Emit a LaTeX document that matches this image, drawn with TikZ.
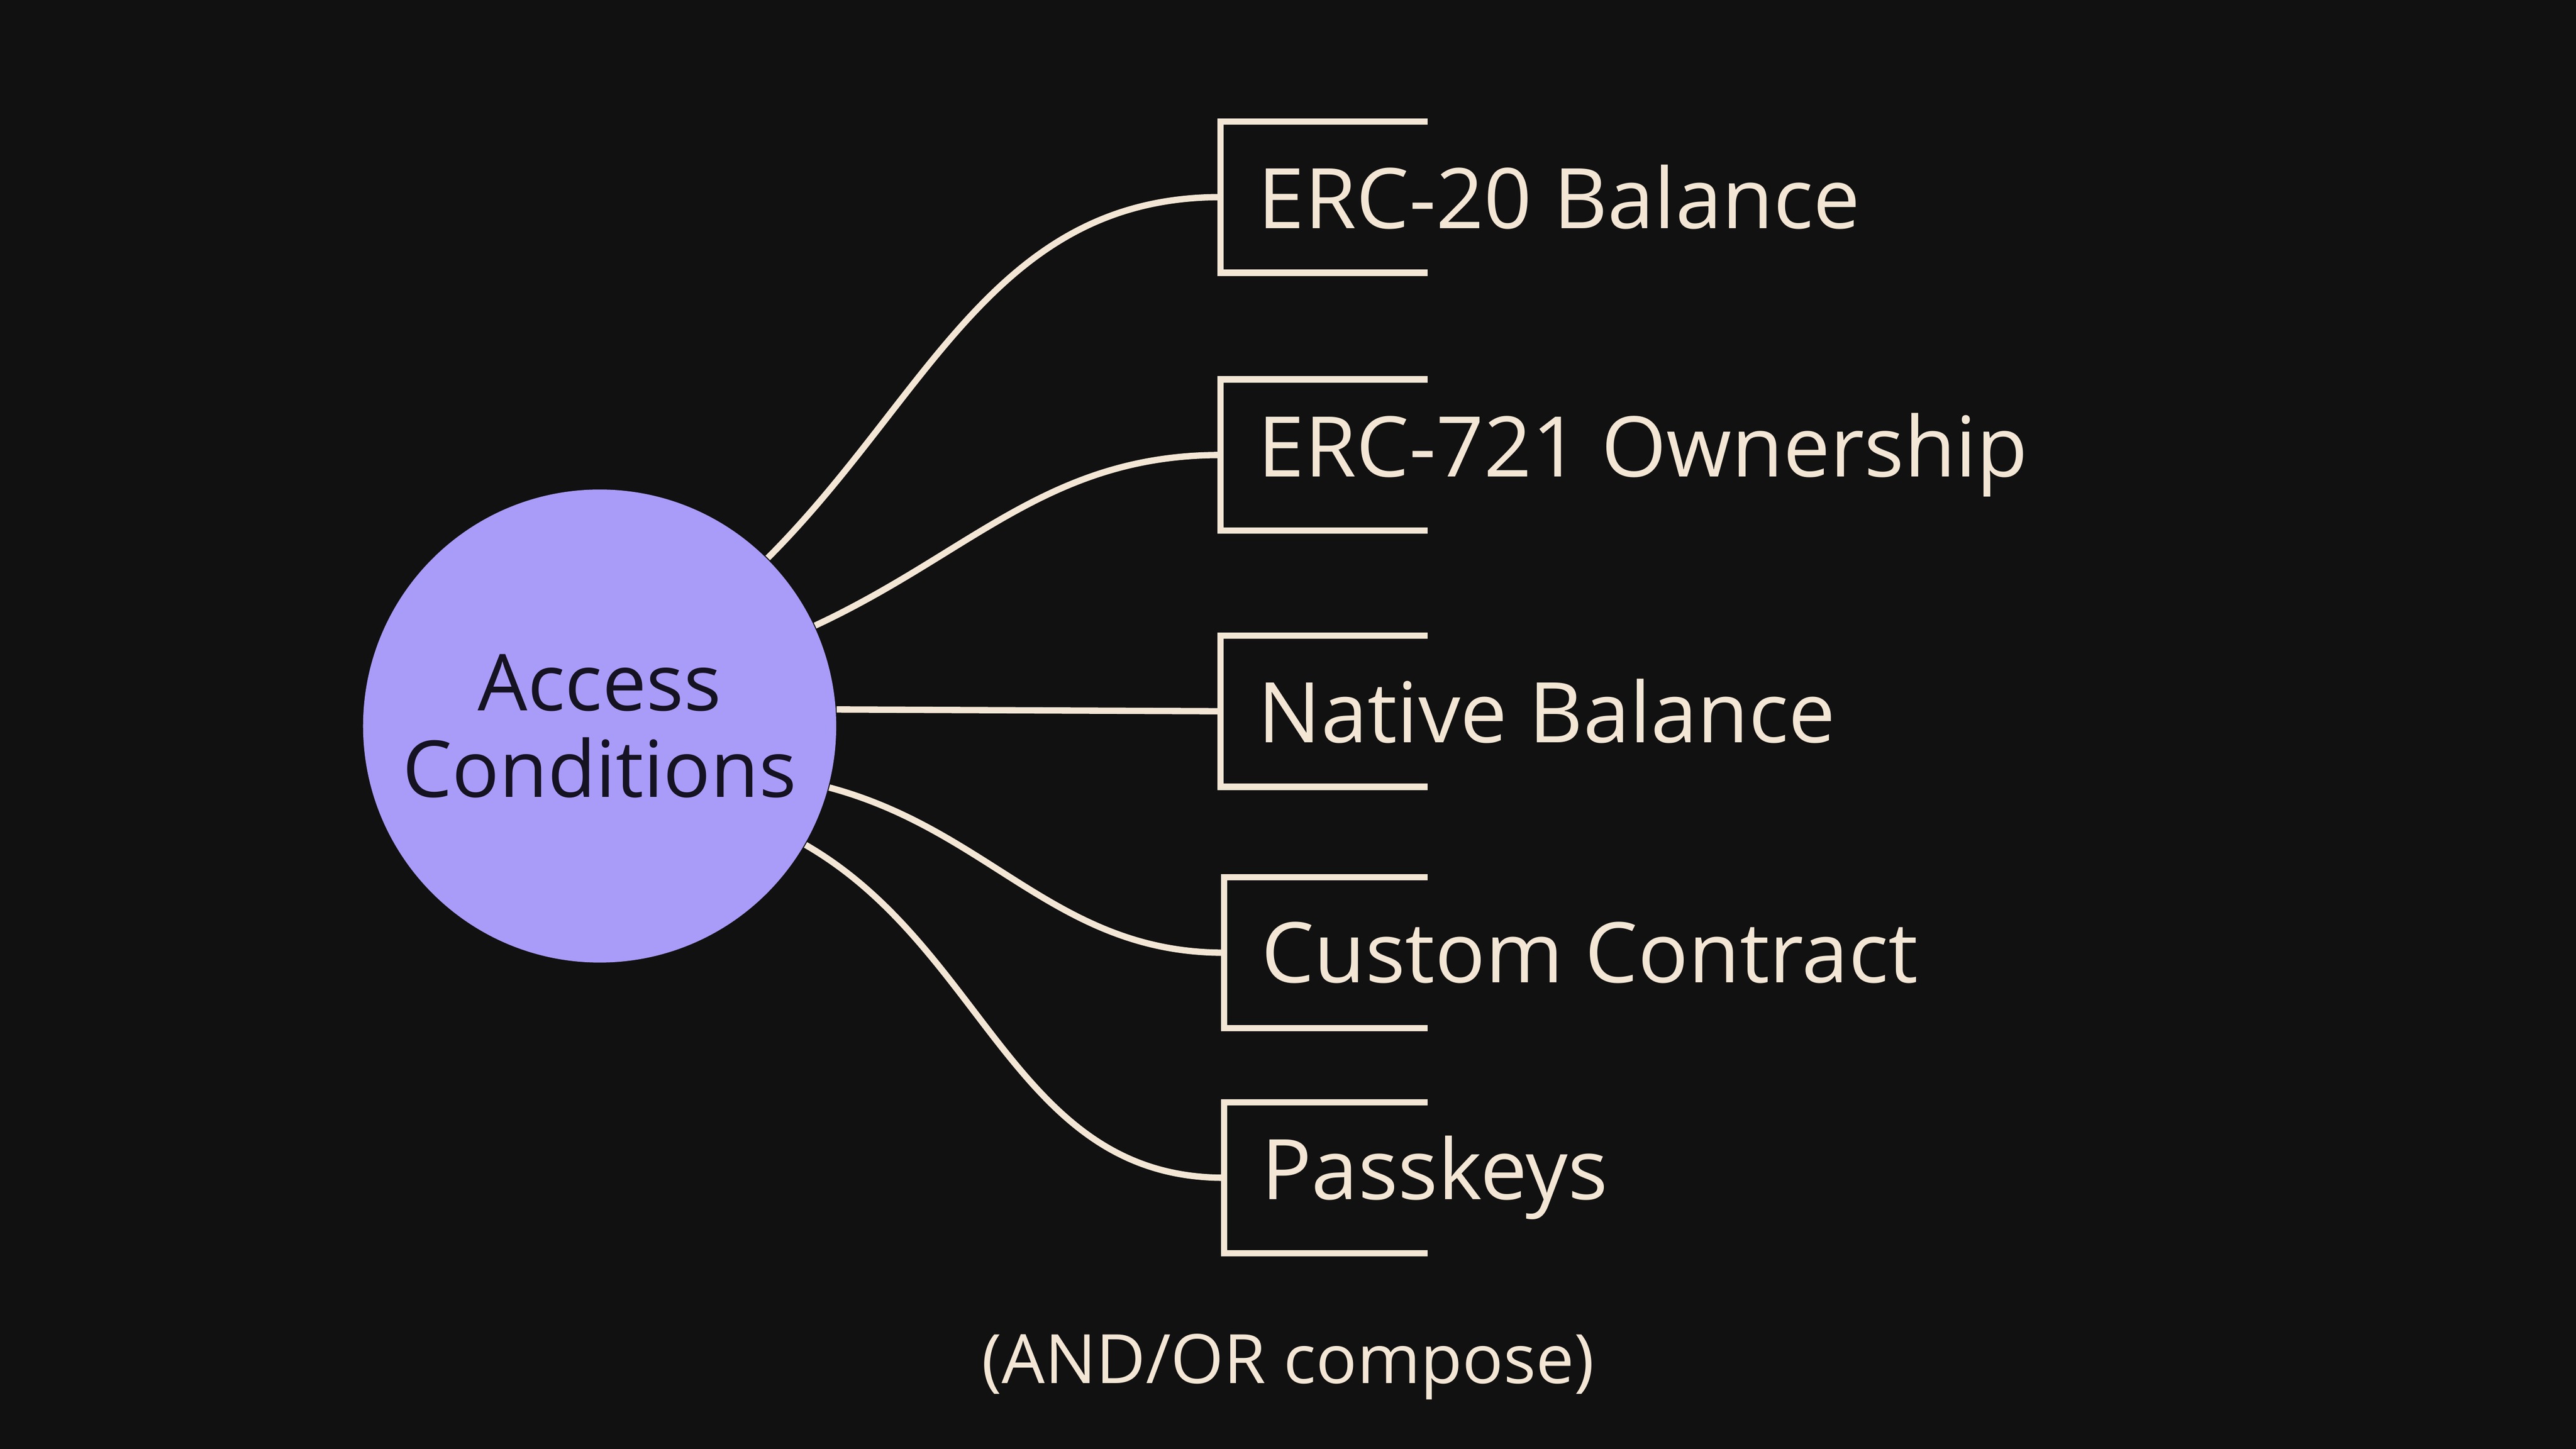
\documentclass[tikz,border=0pt]{standalone}
\usepackage{fontspec}
\setmainfont{Open Sans}
\definecolor{bg}{HTML}{111111}
\definecolor{cream}{HTML}{F3E6D5}
\definecolor{lav}{HTML}{A99BF8}
\definecolor{ink}{HTML}{151222}
\begin{document}
\begin{tikzpicture}[
  line/.style={draw=cream,line width=1.1pt},
  lbl/.style={anchor=west,text=cream,font=\fontsize{14.5}{17}\selectfont,inner sep=0pt},
]
\fill[bg] (0,0) rectangle (15.68,8.82);
\useasboundingbox (0,0) rectangle (15.68,8.82);
\node[circle,fill=lav,minimum size=2.88cm,inner sep=0pt,align=center,text=ink,
  font=\fontsize{13.6}{15}\selectfont] (c) at (3.65,4.40) {Access\\Conditions};
\foreach \i/\x/\y/\t/\a in {1/7.43/7.62/ERC-20 Balance/45,2/7.43/6.05/ERC-721 Ownership/25,4/7.45/3.02/Custom Contract/-15,5/7.45/1.65/Passkeys/-30}{
  \coordinate (b\i) at (\x,\y);
  \coordinate (bt\i) at (8.69,\y+0.46);
  \coordinate (bb\i) at (8.69,\y-0.46);
  \draw[line] (bt\i) -| (b\i) |- (bb\i);
  \node[lbl] (t\i) at (\x+0.22,\y) {\t};
  \draw[line] (c.\a) to[out=\a,in=180] (b\i);
}
\coordinate (b3) at (7.43,4.49);
\draw[line] (8.69,4.95) -| (b3) |- (8.69,4.03);
\node[lbl] (t3) at (7.65,4.49) {Native Balance};
\draw[line] (c.4) -- (b3);
\node[text=cream,font=\fontsize{11.8}{14}\selectfont] (note) at (7.84,0.5) {(AND/OR compose)};
\end{tikzpicture}
\end{document}
